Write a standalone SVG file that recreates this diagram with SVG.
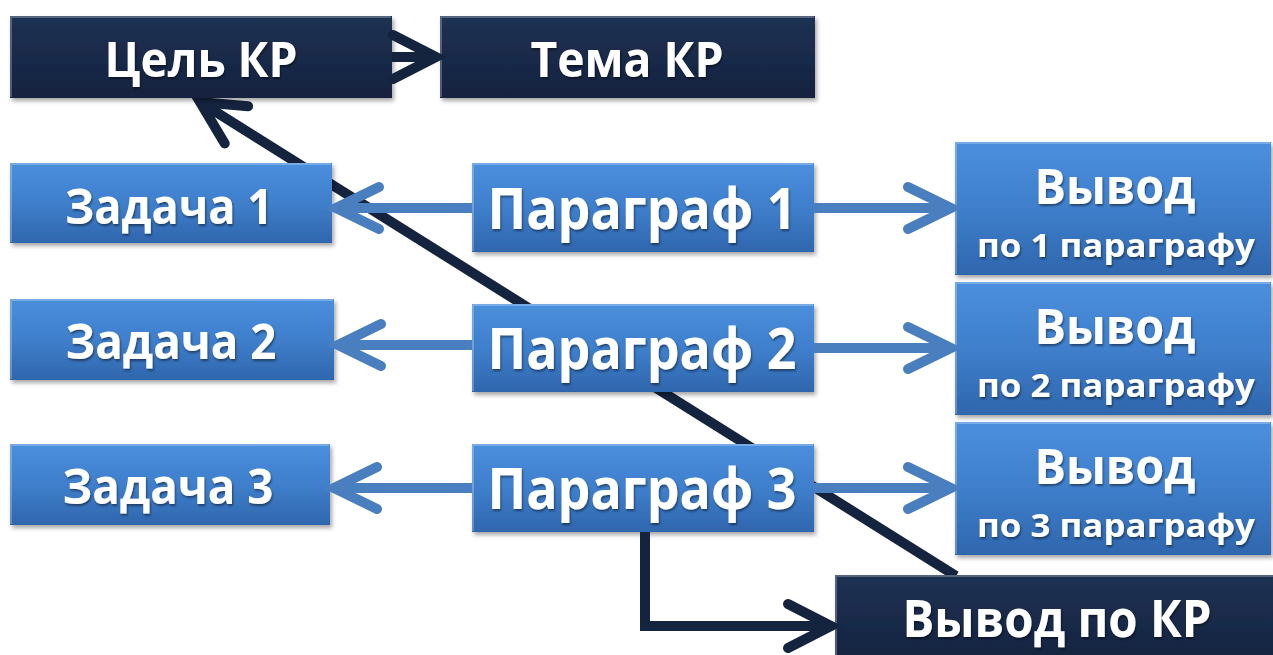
<svg xmlns="http://www.w3.org/2000/svg" width="1273" height="655" viewBox="0 0 1273 655">
<defs>
<linearGradient id="gBlue" x1="0" y1="0" x2="0" y2="1">
<stop offset="0" stop-color="#4a8fdd"/>
<stop offset="0.5" stop-color="#3f7fcc"/>
<stop offset="1" stop-color="#2f66ad"/>
</linearGradient>
<linearGradient id="gDark" x1="0" y1="0" x2="0" y2="1">
<stop offset="0" stop-color="#1e3153"/>
<stop offset="1" stop-color="#15233f"/>
</linearGradient>
<filter id="shadow" x="-5%" y="-10%" width="112%" height="130%">
<feDropShadow dx="2" dy="3" stdDeviation="2" flood-color="#000" flood-opacity="0.35"/>
</filter>
<filter id="tshadow" x="-5%" y="-20%" width="110%" height="150%">
<feDropShadow dx="1" dy="2" stdDeviation="1.2" flood-color="#000" flood-opacity="0.45"/>
</filter>
<marker id="mBlue" markerUnits="userSpaceOnUse" viewBox="-55 -30 65 60" refX="0" refY="0" markerWidth="65" markerHeight="60" orient="auto" overflow="visible">
<path d="M-43,-21 L0,0 L-43,21" fill="none" stroke="#4a7fbf" stroke-width="10" stroke-linecap="round" stroke-linejoin="miter"/>
</marker>
<marker id="mDark" markerUnits="userSpaceOnUse" viewBox="-55 -30 65 60" refX="0" refY="0" markerWidth="65" markerHeight="60" orient="auto" overflow="visible">
<path d="M-43,-22 L0,0 L-43,22" fill="none" stroke="#14233e" stroke-width="10" stroke-linecap="round" stroke-linejoin="miter"/>
</marker>
<style>
.bb{fill:url(#gBlue);filter:url(#shadow)}
.db{fill:url(#gDark);filter:url(#shadow)}
.hl{fill:none;stroke:#ffffff;stroke-opacity:0.25;stroke-width:2}
.t{font-family:"Open Sans","Noto Sans","DejaVu Sans",sans-serif;font-weight:bold;fill:#ffffff;text-anchor:middle;filter:url(#tshadow)}
.blue{fill:none;stroke:#4a7fbf;stroke-width:10;marker-end:url(#mBlue)}
.dark{fill:none;stroke:#14233e;stroke-width:10;marker-end:url(#mDark)}
</style>
</defs>
<rect width="1273" height="655" fill="#ffffff"/>

<g id="connectors-back">
<line class="dark" x1="956" y1="576" x2="200" y2="102"/>
</g>

<g id="cel">
<rect class="db" x="10" y="16" width="382" height="82"/>
<path class="hl" d="M11,97 V17 H391"/>
<text class="t" x="201" y="77" font-size="48" textLength="193" lengthAdjust="spacingAndGlyphs">Цель КР</text>
</g>
<g id="tema">
<rect class="db" x="440" y="16" width="375" height="82"/>
<path class="hl" d="M441,97 V17 H814"/>
<text class="t" x="627" y="77" font-size="48" textLength="193" lengthAdjust="spacingAndGlyphs">Тема КР</text>
</g>

<g id="zadacha1">
<rect class="bb" x="10" y="163" width="322" height="80"/>
<path class="hl" d="M11,242 V164 H331"/>
<text class="t" x="169" y="224" font-size="48" textLength="208" lengthAdjust="spacingAndGlyphs">Задача 1</text>
</g>
<g id="zadacha2">
<rect class="bb" x="10" y="299" width="324" height="81"/>
<path class="hl" d="M11,379 V300 H333"/>
<text class="t" x="171" y="359" font-size="48" textLength="211" lengthAdjust="spacingAndGlyphs">Задача 2</text>
</g>
<g id="zadacha3">
<rect class="bb" x="10" y="444" width="320" height="81"/>
<path class="hl" d="M11,524 V445 H329"/>
<text class="t" x="168" y="504" font-size="48" textLength="211" lengthAdjust="spacingAndGlyphs">Задача 3</text>
</g>

<g id="paragraf1">
<rect class="bb" x="472" y="163" width="342" height="89"/>
<path class="hl" d="M473,251 V164 H813"/>
<text class="t" x="642" y="229" font-size="57" textLength="309" lengthAdjust="spacingAndGlyphs">Параграф 1</text>
</g>
<g id="paragraf2">
<rect class="bb" x="472" y="304" width="342" height="88"/>
<path class="hl" d="M473,391 V305 H813"/>
<text class="t" x="642" y="369" font-size="57" textLength="309" lengthAdjust="spacingAndGlyphs">Параграф 2</text>
</g>
<g id="paragraf3">
<rect class="bb" x="472" y="444" width="342" height="88"/>
<path class="hl" d="M473,531 V445 H813"/>
<text class="t" x="642" y="509" font-size="57" textLength="309" lengthAdjust="spacingAndGlyphs">Параграф 3</text>
</g>

<g id="vyvod1">
<rect class="bb" x="955" y="142" width="316" height="133"/>
<path class="hl" d="M956,274 V143 H1270"/>
<text class="t" x="1115" y="204" font-size="48" textLength="161" lengthAdjust="spacingAndGlyphs">Вывод</text>
<text class="t" x="1116" y="257" font-size="33" textLength="278" lengthAdjust="spacingAndGlyphs">по 1 параграфу</text>
</g>
<g id="vyvod2">
<rect class="bb" x="955" y="282" width="316" height="133"/>
<path class="hl" d="M956,414 V283 H1270"/>
<text class="t" x="1115" y="344" font-size="48" textLength="161" lengthAdjust="spacingAndGlyphs">Вывод</text>
<text class="t" x="1116" y="397" font-size="33" textLength="278" lengthAdjust="spacingAndGlyphs">по 2 параграфу</text>
</g>
<g id="vyvod3">
<rect class="bb" x="955" y="422" width="316" height="133"/>
<path class="hl" d="M956,554 V423 H1270"/>
<text class="t" x="1115" y="484" font-size="48" textLength="161" lengthAdjust="spacingAndGlyphs">Вывод</text>
<text class="t" x="1116" y="537" font-size="33" textLength="278" lengthAdjust="spacingAndGlyphs">по 3 параграфу</text>
</g>

<g id="vyvod-kr">
<rect class="db" x="835" y="575" width="440" height="90"/>
<path class="hl" d="M836,660 V576 H1273"/>
<text class="t" x="1057" y="637" font-size="52" textLength="309" lengthAdjust="spacingAndGlyphs">Вывод по КР</text>
</g>

<g id="connectors">
<line class="dark" x1="392" y1="57" x2="436" y2="57"/>
<line class="blue" x1="472" y1="208" x2="336" y2="208"/>
<line class="blue" x1="472" y1="345" x2="338" y2="345"/>
<line class="blue" x1="472" y1="488" x2="334" y2="488"/>
<line class="blue" x1="814" y1="208" x2="951" y2="208"/>
<line class="blue" x1="814" y1="348" x2="951" y2="348"/>
<line class="blue" x1="814" y1="488" x2="951" y2="488"/>
<path class="dark" d="M645,532 V626 H831"/>
</g>
</svg>
